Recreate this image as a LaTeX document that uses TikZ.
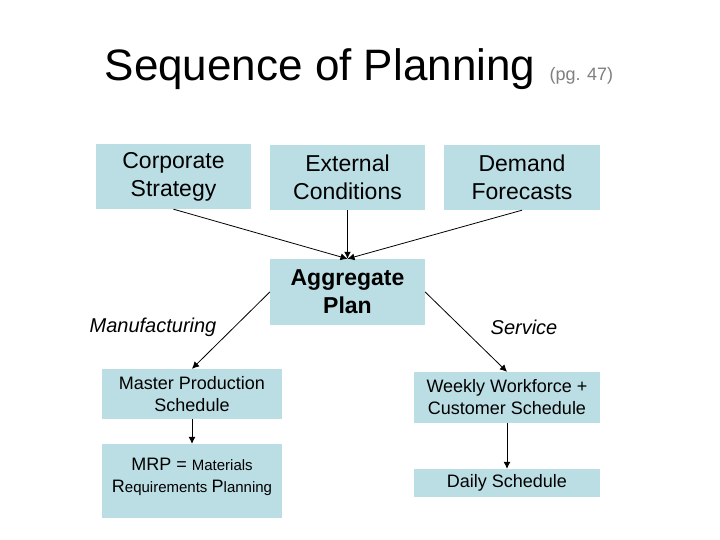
\documentclass[tikz,border=0pt]{standalone}
\usepackage{fontspec}
\setmainfont{Liberation Sans}
\usetikzlibrary{arrows.meta}
\definecolor{boxblue}{RGB}{187,222,228}

\begin{document}
\begin{tikzpicture}[x=1pt,y=-1pt,every node/.style={font=\fontsize{23}{28}\selectfont}]
  \tikzset{
    box/.style={fill=boxblue,align=center,inner sep=0pt},
    small/.style={font=\fontsize{18}{22}\selectfont},
    lbl/.style={font=\fontsize{20}{24}\selectfont\itshape},
    arr/.style={-{Latex[length=7pt,width=7pt]},black,line width=0.8pt}
  }
  \useasboundingbox[fill=white] (0,0) rectangle (720,540);
  % title
  \node[font=\fontsize{44}{50}\selectfont,anchor=base] (title) at (320,81) {Sequence of Planning};
  \node[font=\fontsize{18}{22}\selectfont,text=gray,anchor=base west] (pg) at (546,81) {(pg. 47)};
  % top row
  \node[box,minimum width=155,minimum height=65] (cs) at (173.5,176.5) {Corporate\\Strategy};
  \node[box,minimum width=155,minimum height=65] (ext) at (347.5,177.5) {External\\Conditions};
  \node[box,minimum width=156,minimum height=65] (df) at (522,177.5) {Demand\\Forecasts};
  \node[box,minimum width=155,minimum height=66,font=\fontsize{23}{28}\selectfont\bfseries] (agg) at (347.5,292) {Aggregate\\Plan};
  \node[lbl] (manu) at (153,327) {Manufacturing};
  \node[lbl] (serv) at (524,327) {Service};
  % left branch
  \node[box,small,minimum width=180,minimum height=50] (mps) at (192,394) {Master Production\\Schedule};
  \node[box,small,minimum width=180,minimum height=74] (mrp) at (192,481)
    {MRP = {\fontsize{15}{22}\selectfont Materials}\\R{\fontsize{15}{22}\selectfont equirements }P{\fontsize{15}{22}\selectfont lanning}\\[-10pt]\mbox{}};
  % right branch
  \node[box,small,minimum width=186,minimum height=51] (wk) at (507,397.5) {Weekly Workforce +\\Customer Schedule};
  \node[box,small,minimum width=186,minimum height=28] (ds) at (507,483) {Daily Schedule};
  \foreach \u/\v in {cs.south/agg.north,df.south/agg.north,agg.west/mps.north,agg.east/wk.north,mps/mrp,wk/ds}
    \draw[arr] (\u) -- (\v);
  \draw[arr,line width=1.4pt] (ext) -- (agg);
\end{tikzpicture}
\end{document}
